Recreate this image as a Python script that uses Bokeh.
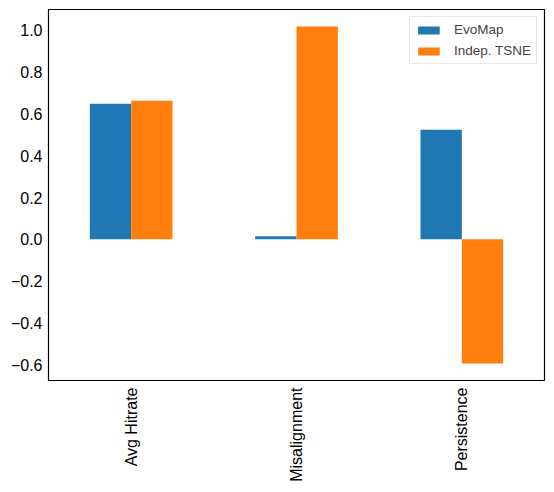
from bokeh.plotting import figure
from bokeh.models import FixedTicker, Range1d, Legend, LegendItem, ColumnDataSource
from bokeh.embed import file_html
from bokeh.resources import INLINE
import math

categories = ["Avg Hitrate", "Misalignment", "Persistence"]
evomap = [0.649, 0.014, 0.524]
indep_tsne = [0.663, 1.019, -0.595]
y_ticks = [-0.6, -0.4, -0.2, 0.0, 0.2, 0.4, 0.6, 0.8, 1.0]

FONT = "Liberation Sans"
x = list(range(len(categories)))
w = 0.25

p = figure(width=554, height=492, output_backend="svg", toolbar_location=None,
           x_range=Range1d(-0.5, 2.5), y_range=Range1d(-0.676, 1.100),
           min_border_left=48, min_border_right=10, min_border_top=9, min_border_bottom=112)

src = ColumnDataSource(dict(x1=[v - w / 2 for v in x], x2=[v + w / 2 for v in x],
                            evo=evomap, tsne=indep_tsne))
r1 = p.vbar(x="x1", top="evo", bottom=0, width=w, source=src, fill_color="#1f77b4", line_color=None)
r2 = p.vbar(x="x2", top="tsne", bottom=0, width=w, source=src, fill_color="#ff7f0e", line_color=None)

p.grid.visible = False
p.outline_line_color = "black"
p.outline_line_width = 1.2
p.background_fill_color = "white"
p.border_fill_color = "white"

for ax in (p.xaxis[0], p.yaxis[0]):
    ax.axis_line_color = None
    ax.major_tick_line_color = None
    ax.minor_tick_line_color = None
    ax.major_tick_out = 0
    ax.major_tick_in = 0
    ax.minor_tick_out = 0
    ax.minor_tick_in = 0
    ax.major_label_text_font = FONT
    ax.major_label_text_font_size = "16px"
    ax.major_label_text_color = "black"

p.xaxis.ticker = FixedTicker(ticks=x)
p.xaxis.major_label_overrides = {i: c for i, c in enumerate(categories)}
p.xaxis.major_label_orientation = math.pi / 2
p.xaxis.major_label_standoff = 7

p.yaxis.ticker = FixedTicker(ticks=y_ticks)
p.yaxis.major_label_overrides = {t: f"{t:.1f}".replace("-", "\u2212") for t in y_ticks}
p.yaxis.major_label_standoff = 6

legend = Legend(items=[LegendItem(label="EvoMap", renderers=[r1]),
                       LegendItem(label="Indep. TSNE", renderers=[r2])],
                location="top_right")
legend.label_text_font = FONT
legend.label_text_font_size = "13.5px"
legend.glyph_width = 27
legend.glyph_height = 10
legend.label_standoff = 12
legend.spacing = 6
legend.padding = 5
legend.margin = 7
legend.border_line_color = "#d0d0d0"
legend.border_line_width = 1
legend.label_height = 15
p.add_layout(legend)

open("out.html", "w").write(file_html(p, INLINE))
